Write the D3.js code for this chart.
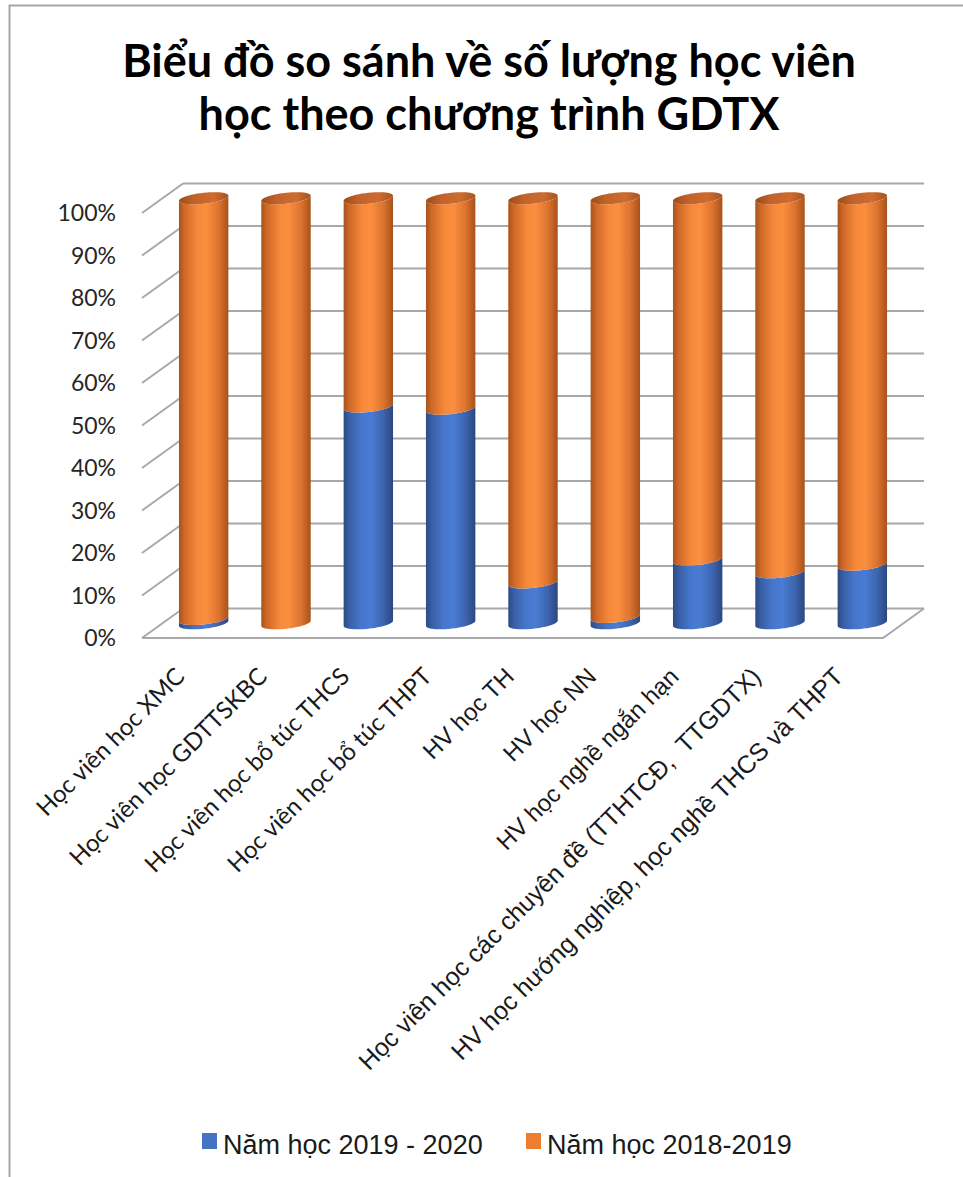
<!DOCTYPE html>
<html>
<head>
<meta charset="utf-8">
<script src="https://cdn.jsdelivr.net/npm/d3@7"></script>
<style>
  body { margin: 0; background: #fff; }
  svg { display: block; }
</style>
</head>
<body>
<svg id="chart" width="963" height="1177"></svg>
<script>
// Categories (programme types)
const categories = [
  "Học viên học XMC",
  "Học viên học GDTTSKBC",
  "Học viên học bổ túc THCS",
  "Học viên học bổ túc THPT",
  "HV học TH",
  "HV học NN",
  "HV học nghề ngắn hạn",
  "Học viên học các chuyên đề (TTHTCĐ,  TTGDTX)",
  "HV học hướng nghiệp, học nghề THCS và THPT"
];

// Share of learners per school year (percent of the column)
const share2019_2020 = [1, 0, 51, 50.5, 9.6, 1.5, 15, 12, 13.8];
const share2018_2019 = [99, 100, 49, 49.5, 90.4, 98.5, 85, 88, 86.2];

const seriesNames = ["Năm học 2019 - 2020", "Năm học 2018-2019"];
const yTicks = [0, 10, 20, 30, 40, 50, 60, 70, 80, 90, 100];
const titleLines = ["Biểu đồ so sánh về số lượng học viên", "học theo chương trình GDTX"];

// Label fonts: the first four labels use a humanist face, the rest Arial-style
const labelFonts = ["Lato", "Lato", "Lato", "Lato",
  "Liberation Sans", "Liberation Sans", "Liberation Sans", "Liberation Sans", "Liberation Sans"];
const labelSizes = [24, 24, 24, 24, 24, 24, 24, 25, 25];

const svg = d3.select("#chart");

// Frame of the chart area
svg.append("path")
  .attr("d", "M9.5,1177 V5.5 H963")
  .attr("fill", "none")
  .attr("stroke", "#a6a6a6")
  .attr("stroke-width", 2);

// Title
svg.append("g").selectAll("text")
  .data(titleLines)
  .join("text")
  .attr("x", 489)
  .attr("y", (d, i) => 77 + i * 53)
  .attr("text-anchor", "middle")
  .attr("font-family", "Lato, 'Open Sans', sans-serif")
  .attr("font-weight", 700)
  .attr("font-size", 45)
  .attr("fill", "#000")
  .text(d => d);

// Front plane of the 3-D plot box and its depth offset
const plot = { x0: 142, x1: 883, y0: 638, y1: 213 };
const depth = { dx: 41, dy: -29.5 };

const x = d3.scaleBand().domain(categories).range([plot.x0, plot.x1]);
const yFront = d3.scaleLinear().domain([0, 100]).range([plot.y0, plot.y1]);
// Columns stand halfway into the depth of the box
const yMid = v => yFront(v) + depth.dy / 2;
const cx = c => x(c) + x.bandwidth() / 2 + depth.dx / 2;

// Gridlines on the back wall and the side wall
const grid = svg.append("g")
  .attr("stroke", "#a8a8a8")
  .attr("stroke-width", 2)
  .attr("fill", "none");

grid.selectAll("line.back")
  .data(yTicks)
  .join("line")
  .attr("class", "back")
  .attr("x1", plot.x0 + depth.dx)
  .attr("x2", plot.x1 + depth.dx)
  .attr("y1", d => yFront(d) + depth.dy)
  .attr("y2", d => yFront(d) + depth.dy);

grid.selectAll("line.side")
  .data(yTicks)
  .join("line")
  .attr("class", "side")
  .attr("x1", plot.x0)
  .attr("y1", d => yFront(d))
  .attr("x2", plot.x0 + depth.dx)
  .attr("y2", d => yFront(d) + depth.dy);

// Floor front and right edges
grid.append("path")
  .attr("d", `M${plot.x0},${yFront(0)} H${plot.x1} l${depth.dx},${depth.dy}`);

// Y axis labels
svg.append("g").selectAll("text")
  .data(yTicks)
  .join("text")
  .attr("x", 116)
  .attr("y", d => yFront(d))
  .attr("dy", "0.36em")
  .attr("text-anchor", "end")
  .attr("font-family", "Lato, 'Open Sans', sans-serif")
  .attr("font-size", 23)
  .attr("fill", "#262626")
  .text(d => d + "%");

// Cylinder shading gradients
const defs = svg.append("defs");
function sideGradient(id, stops) {
  const g = defs.append("linearGradient").attr("id", id)
    .attr("x1", 0).attr("x2", 1).attr("y1", 0).attr("y2", 0);
  stops.forEach(([o, c]) => g.append("stop").attr("offset", o).attr("stop-color", c));
}
sideGradient("bodyBlue", [[0, "#2c4a86"], [0.12, "#3a5fa6"], [0.35, "#4676cc"], [0.55, "#4a7cd4"], [0.8, "#3d64ae"], [1, "#2b4780"]]);
sideGradient("bodyOrange", [[0, "#a9521b"], [0.12, "#d06a29"], [0.38, "#f7893a"], [0.55, "#fb8f3f"], [0.8, "#dc7430"], [1, "#a8511b"]]);
sideGradient("capOrange", [[0, "#9c4c18"], [0.3, "#c0622a"], [0.7, "#cd6c30"], [1, "#a85420"]]);
sideGradient("capBlue", [[0, "#2d4b88"], [0.5, "#3f67b3"], [1, "#2d4b88"]]);

const R = x.bandwidth() * 0.3;   // cylinder radius
const RY = 5.5;                  // vertical half-axis of the cross-section ellipse
const TILT = 2.6;                // left edge sits a little lower than the right edge

// Point on the cross-section ellipse at angle t (0 = right, PI/2 = front)
const ellipsePt = (c, v, t) => [
  cx(c) + R * Math.cos(t),
  yMid(v) + RY * Math.sin(t) - TILT * Math.cos(t)
];
const N = 48;
const frontArc = (c, v, from, to) =>
  d3.range(N + 1).map(i => ellipsePt(c, v, from + (to - from) * i / N));

const line = d3.line();

function bodyPath(c, v0, v1) {
  const top = frontArc(c, v1, Math.PI, 0);      // left -> front -> right
  const bot = frontArc(c, v0, 0, Math.PI);      // right -> front -> left
  return line(top.concat(bot)) + "Z";
}
function capPath(c, v) {
  return line(frontArc(c, v, 0, 2 * Math.PI)) + "Z";
}

// Stack the two series
const stacks = categories.map((c, i) => {
  const a = share2019_2020[i], b = share2018_2019[i];
  return { c, segs: [
    { v0: 0, v1: a, fill: "url(#bodyBlue)", cap: "url(#capBlue)" },
    { v0: a, v1: a + b, fill: "url(#bodyOrange)", cap: "url(#capOrange)" }
  ].filter(s => s.v1 > s.v0) };
});

const cols = svg.append("g").selectAll("g")
  .data(stacks)
  .join("g");

cols.selectAll("path.body")
  .data(d => d.segs.map(s => ({ ...s, c: d.c })))
  .join("path")
  .attr("class", "body")
  .attr("d", s => bodyPath(s.c, s.v0, s.v1))
  .attr("fill", s => s.fill);

cols.append("path")
  .attr("class", "cap")
  .attr("d", d => {
    const top = d.segs[d.segs.length - 1];
    return capPath(d.c, top.v1);
  })
  .attr("fill", d => d.segs[d.segs.length - 1].cap);

// Category labels, rotated 45 degrees
svg.append("g").selectAll("text")
  .data(categories)
  .join("text")
  .attr("transform", d => `translate(${x(d) + x.bandwidth() / 2 + 3},678) rotate(-45)`)
  .attr("text-anchor", "end")
  .attr("font-family", (d, i) => labelFonts[i])
  .attr("font-size", (d, i) => labelSizes[i])
  .attr("fill", "#1a1a1a")
  .attr("xml:space", "preserve")
  .style("white-space", "pre")
  .text(d => d);

// Legend
const legendItems = [
  { name: seriesNames[0], color: "#4472c4", x: 202 },
  { name: seriesNames[1], color: "#ed7d31", x: 526 }
];
const lg = svg.append("g").selectAll("g")
  .data(legendItems)
  .join("g")
  .attr("transform", d => `translate(${d.x},1133)`);
lg.append("rect")
  .attr("width", 15).attr("height", 16)
  .attr("fill", d => d.color);
lg.append("text")
  .attr("x", 21)
  .attr("y", 21)
  .attr("font-family", "'Liberation Sans', Arial, sans-serif")
  .attr("font-size", 27)
  .attr("fill", "#1a1a1a")
  .text(d => d.name);
</script>
</body>
</html>
